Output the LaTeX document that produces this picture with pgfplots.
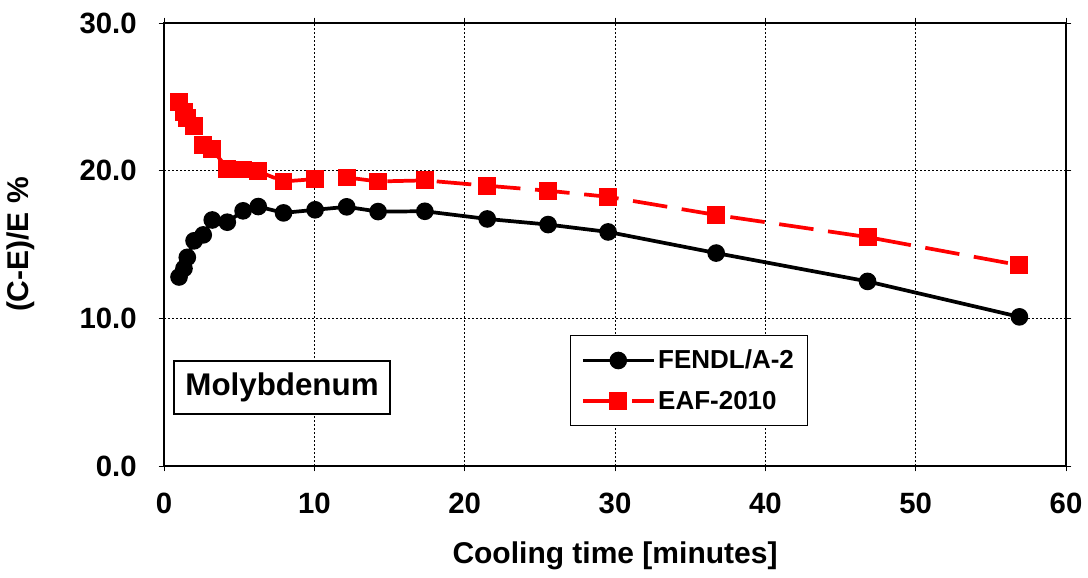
\documentclass[border=0pt]{standalone}
\usepackage{pgfplots}
\pgfplotsset{compat=1.18}
\usepackage{fontspec}
\setmainfont{Liberation Sans}
\begin{document}
\begin{tikzpicture}
\begin{axis}[
  scale only axis,
  width=676.5pt, height=332.25pt,
  xmin=0, xmax=60, ymin=0, ymax=30,
  xtick={0,10,20,30,40,50,60},
  ytick={0,10,20,30},
  /pgf/number format/assume math mode=true,
  ticklabel style={font=\fontsize{22}{26}\selectfont\bfseries},
  xticklabel style={yshift=-13pt},
  yticklabel style={xshift=-13pt},
  yticklabel={\pgfmathprintnumber[fixed, fixed zerofill, precision=1, assume math mode=true]{\tick}},
  tick align=outside,
  major tick length=4pt,
  tick style={black, line width=0.6pt},
  axis line style={line width=1.5pt},
  grid=major,
  grid style={black, line width=0.6pt, dash pattern=on 1.5pt off 1.5pt},
  xlabel={Cooling time [minutes]},
  ylabel={(C-E)/E \%},
  label style={font=\fontsize{22.5}{26}\selectfont\bfseries},
  xlabel shift=14pt,
  ylabel shift=27pt,
  legend style={at={(rel axis cs:0.45,0.296)}, anchor=north west,
    draw=black, line width=0.8pt, font=\fontsize{19.5}{23}\selectfont\bfseries,
    row sep=11pt, inner xsep=8pt, inner ysep=9pt},
  legend cell align=left,
  legend image code/.code={
    \draw[#1] (0pt,0pt) -- (53pt,0pt);
    \draw[#1, solid] plot coordinates {(26.5pt,0pt)};
  },
]
\addplot[black, line width=2.8pt, mark=*, mark size=5.2pt, mark options={solid}]
coordinates {
(1.00,12.80) (1.33,13.38) (1.55,14.13) (2.00,15.25) (2.61,15.65)
(3.21,16.66) (4.21,16.51) (5.26,17.28) (6.27,17.57) (7.95,17.14)
(10.05,17.35) (12.15,17.55) (14.24,17.23) (17.35,17.25) (21.5,16.73)
(25.55,16.35) (29.54,15.85) (36.73,14.42) (46.8,12.5) (56.9,10.1)
};
\addlegendentry{FENDL/A-2}
\addplot[red, line width=2.8pt, dash pattern=on 26pt off 11pt, mark=square*, mark size=5.3pt, mark options={solid}]
coordinates {
(1.00,24.65) (1.33,24.00) (1.55,23.55) (2.00,23.05) (2.61,21.75)
(3.21,21.45) (4.21,20.14) (5.26,20.08) (6.27,19.95) (7.95,19.27)
(10.05,19.43) (12.15,19.54) (14.24,19.27) (17.35,19.34) (21.5,18.98)
(25.55,18.64) (29.54,18.23) (36.73,17.0) (46.8,15.5) (56.9,13.6)
};
\addlegendentry{EAF-2010}
\node[draw=black, line width=1.5pt, fill=white, anchor=south west, inner sep=0pt,
  minimum width=162pt, minimum height=40pt,
  font=\fontsize{23.5}{26}\selectfont\bfseries]
  at (rel axis cs:0.01,0.115) {Molybdenum};
\end{axis}
\path[use as bounding box] ([xshift=-123pt,yshift=-83.25pt]current axis.south west)
  rectangle ([xshift=16.5pt,yshift=17.25pt]current axis.north east);
\end{tikzpicture}
\end{document}
